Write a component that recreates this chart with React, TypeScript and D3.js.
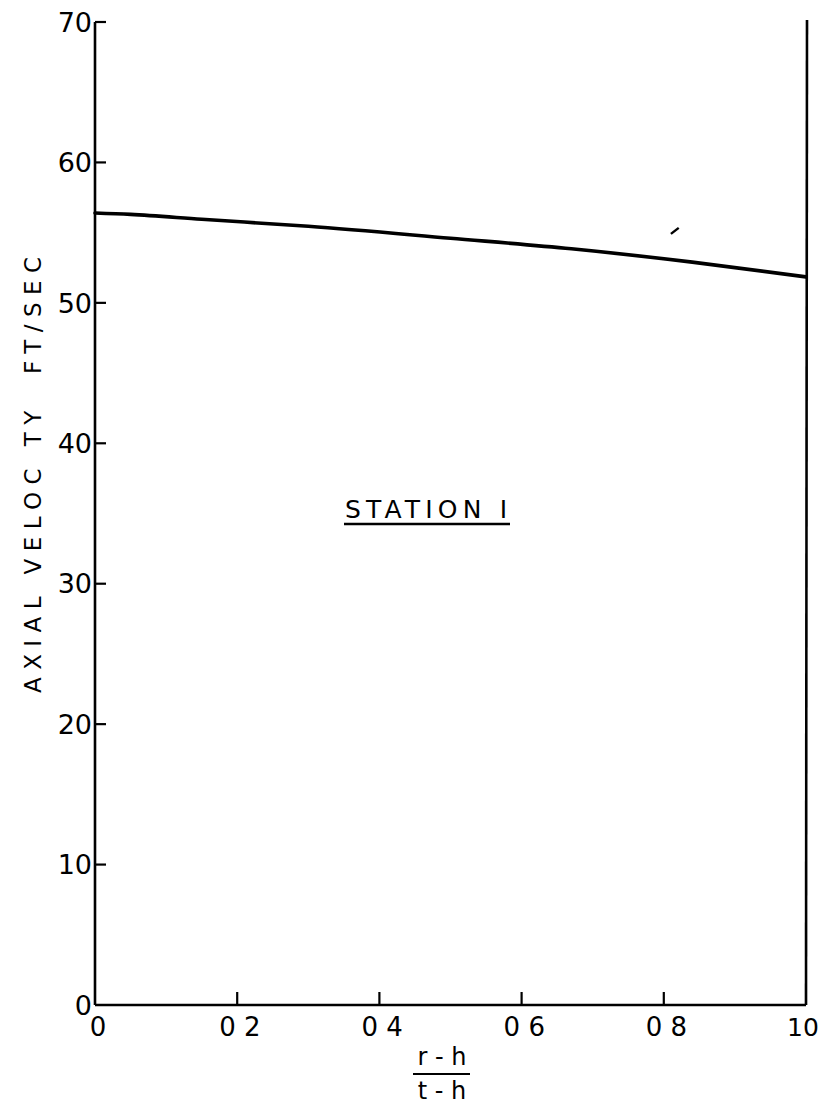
import React from "react";
import * as d3 from "d3";

// ---- data ----
const radialPosition = [0, 0.05, 0.15, 0.3, 0.5, 0.67, 0.84, 1.0];
const axialVelocity = [56.4, 56.3, 55.95, 55.45, 54.6, 53.85, 52.9, 51.85];
const xTickValues = [0, 0.2, 0.4, 0.6, 0.8, 1.0];
const xTickLabels = ["0", "0 2", "0 4", "0 6", "0 8", "10"];
const yTickValues = [0, 10, 20, 30, 40, 50, 60, 70];
const yTickLabels = ["0", "10", "20", "30", "40", "50", "60", "70"];
const strayMarkX = [0.81, 0.821];
const strayMarkY = [54.91, 55.34];

const W = 825;
const H = 1105;

export default function App() {
  const x = d3.scaleLinear().domain([0, 1]).range([95, 806]);
  const y = d3.scaleLinear().domain([0, 70]).range([1005, 22]);

  const pts: [number, number][] = radialPosition.map((r, i) => [r, axialVelocity[i]]);
  const line = d3
    .line<[number, number]>()
    .x((d) => x(d[0]))
    .y((d) => y(d[1]))
    .curve(d3.curveMonotoneX);

  const font = "'DejaVu Sans', sans-serif";
  const x0 = x(0);
  const x1 = x(1);
  const y0 = y(0);
  const yTop = y(70);

  return (
    <svg
      width={W}
      height={H}
      style={{ position: "absolute", left: 0, top: 0, background: "#fff" }}
      fontFamily={font}
    >
      <rect x={0} y={0} width={W} height={H} fill="#fff" />
      {/* axes frame */}
      <line x1={x0} y1={yTop} x2={x0} y2={y0} stroke="#000" strokeWidth={2.6} />
      <line x1={x0} y1={y0} x2={x1} y2={y0} stroke="#000" strokeWidth={2.6} />
      <line x1={x1 + 1} y1={yTop - 2} x2={x1} y2={y0} stroke="#000" strokeWidth={2.6} />

      {/* y ticks */}
      {yTickValues.map((v, i) => (
        <g key={"yt" + v}>
          {v > 0 && (
            <line x1={x0} y1={y(v)} x2={x0 + 11} y2={y(v)} stroke="#000" strokeWidth={2.2} />
          )}
          <text
            x={x0 - 3}
            y={y(v)}
            dy="0.36em"
            textAnchor="end"
            fontSize={27}
            fill="#000"
          >
            {yTickLabels[i]}
          </text>
        </g>
      ))}

      {/* x ticks */}
      {xTickValues.map((v, i) => (
        <g key={"xt" + v}>
          {v > 0 && v < 1 && (
            <line x1={x(v)} y1={y0} x2={x(v)} y2={y0 - 13} stroke="#000" strokeWidth={2.2} />
          )}
          <text
            x={v === 0 ? x(v) + 3 : v === 1 ? x(v) - 19 : x(v) - 18}
            y={1036}
            textAnchor={v === 0 ? "middle" : "start"}
            fontSize={v === 1 ? 25 : 26}
            fill="#000"
            style={{ whiteSpace: "pre" }}
          >
            {xTickLabels[i]}
          </text>
        </g>
      ))}

      {/* curve */}
      <path d={line(pts) || ""} fill="none" stroke="#000" strokeWidth={3.6} strokeLinecap="round" />

      {/* stray pencil mark */}
      <line
        x1={x(strayMarkX[0])}
        y1={y(strayMarkY[0])}
        x2={x(strayMarkX[1])}
        y2={y(strayMarkY[1])}
        stroke="#000"
        strokeWidth={2.4}
      />

      {/* station label */}
      <text x={345} y={518} fontSize={25} fill="#000" textLength={162} lengthAdjust="spacing">
        STATION I
      </text>
      <line x1={344} y1={524} x2={510} y2={524} stroke="#000" strokeWidth={2.6} />

      {/* y axis title */}
      <text
        transform="translate(41,475) rotate(-90)"
        textAnchor="middle"
        fontSize={23}
        fill="#000"
        textLength={436}
        lengthAdjust="spacing"
        style={{ whiteSpace: "pre" }}
      >
        AXIAL VELOC TY  FT/SEC
      </text>

      {/* x axis title as fraction */}
      <text x={442} y={1065} textAnchor="middle" fontSize={24} fill="#000" style={{ whiteSpace: "pre" }}>
        r - h
      </text>
      <line x1={413} y1={1074} x2={470} y2={1074} stroke="#000" strokeWidth={2.2} />
      <text x={442} y={1099} textAnchor="middle" fontSize={24} fill="#000" style={{ whiteSpace: "pre" }}>
        t - h
      </text>
    </svg>
  );
}
